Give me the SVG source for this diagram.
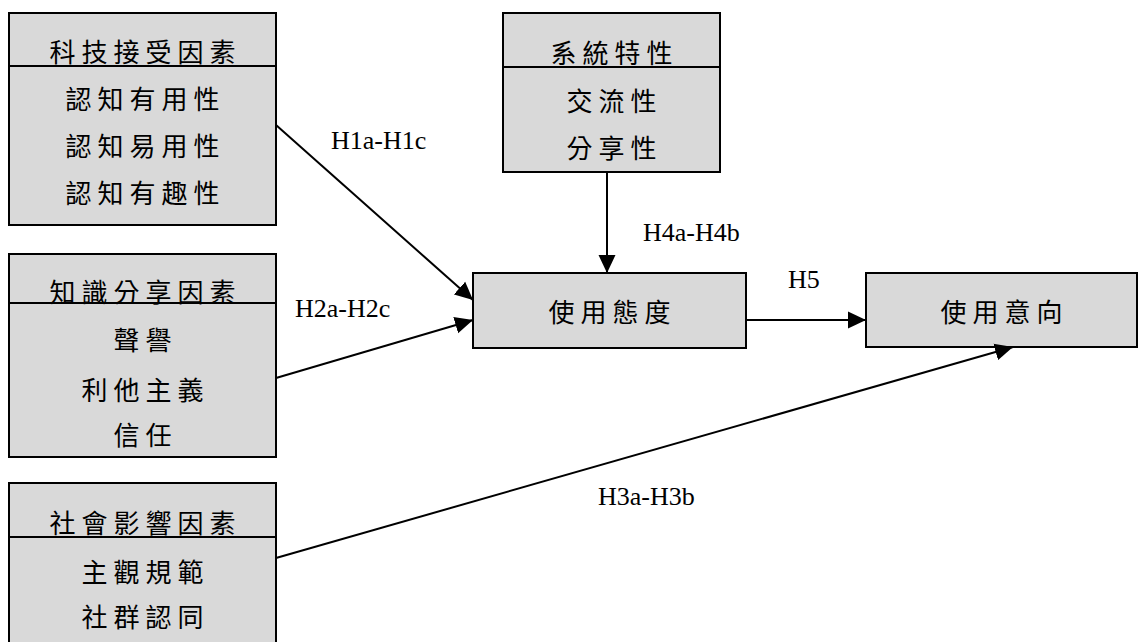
<svg xmlns="http://www.w3.org/2000/svg" width="1138" height="642" viewBox="0 0 1138 642">
<defs>
<marker id="arr" viewBox="0 0 18 18" refX="18" refY="9" markerWidth="18" markerHeight="18" markerUnits="userSpaceOnUse" orient="auto">
<path d="M0,0.5 L18,9 L0,17.5 z" fill="#000"/>
</marker>
<style>
.box{fill:#d9d9d9;stroke:#000;stroke-width:2}
.div{stroke:#000;stroke-width:2}
.cj{font-family:"Noto Sans CJK TC","Noto Sans CJK SC",sans-serif;font-size:26px;letter-spacing:6px;text-anchor:middle;dominant-baseline:central;fill:#000}
.lb{font-family:"Liberation Serif","Times New Roman",serif;font-size:26px;fill:#000}
.con{stroke:#000;stroke-width:2;fill:none;marker-end:url(#arr)}
</style>
</defs>
<rect width="1138" height="642" fill="#fff"/>
<g id="tech">
<rect class="box" x="9" y="13" width="267" height="212"/>
<line class="div" x1="9" y1="66" x2="276" y2="66"/>
<text class="cj" x="145.5" y="50">科技接受因素</text>
<text class="cj" x="145.5" y="97">認知有用性</text>
<text class="cj" x="145.5" y="144">認知易用性</text>
<text class="cj" x="145.5" y="191">認知有趣性</text>
</g>
<g id="knowledge">
<rect class="box" x="9" y="254" width="267" height="203"/>
<line class="div" x1="9" y1="303" x2="276" y2="303"/>
<text class="cj" x="145.5" y="290">知識分享因素</text>
<text class="cj" x="145.5" y="338">聲譽</text>
<text class="cj" x="145.5" y="388">利他主義</text>
<text class="cj" x="145.5" y="433">信任</text>
</g>
<g id="social">
<rect class="box" x="9" y="483" width="267" height="170"/>
<line class="div" x1="9" y1="537" x2="276" y2="537"/>
<text class="cj" x="145.5" y="521">社會影響因素</text>
<text class="cj" x="145.5" y="570">主觀規範</text>
<text class="cj" x="145.5" y="615">社群認同</text>
</g>
<g id="system">
<rect class="box" x="503" y="13" width="217" height="159"/>
<line class="div" x1="503" y1="67" x2="720" y2="67"/>
<text class="cj" x="614.5" y="51">系統特性</text>
<text class="cj" x="614.5" y="99">交流性</text>
<text class="cj" x="614.5" y="146">分享性</text>
</g>
<g id="attitude">
<rect class="box" x="473" y="273" width="273" height="75"/>
<text class="cj" x="612.5" y="310">使用態度</text>
</g>
<g id="intention">
<rect class="box" x="866" y="273" width="271" height="74"/>
<text class="cj" x="1004.5" y="310">使用意向</text>
</g>
<g id="connectors">
<line class="con" x1="276" y1="125" x2="473" y2="300"/>
<line class="con" x1="276" y1="378" x2="473" y2="320"/>
<line class="con" x1="276" y1="558" x2="1013" y2="347"/>
<line class="con" x1="607" y1="172" x2="607" y2="273"/>
<line class="con" x1="746" y1="320" x2="866" y2="320"/>
<text class="lb" x="331" y="149">H1a-H1c</text>
<text class="lb" x="295" y="317">H2a-H2c</text>
<text class="lb" x="643" y="241">H4a-H4b</text>
<text class="lb" x="788" y="288">H5</text>
<text class="lb" x="598" y="505">H3a-H3b</text>
</g>
</svg>
